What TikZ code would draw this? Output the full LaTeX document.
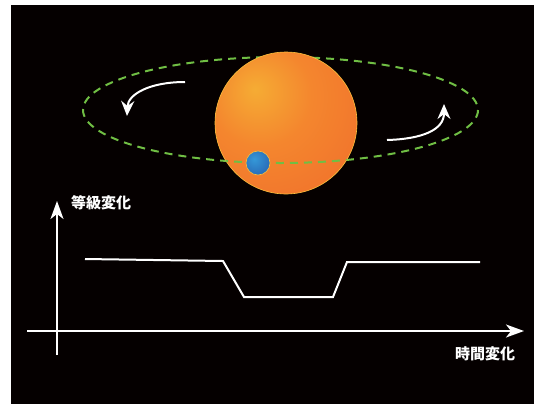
\documentclass[tikz,border=0pt]{standalone}
\usepackage{fontspec}
\usetikzlibrary{arrows.meta}
\newfontfamily\cjk{Noto Sans CJK JP}
\definecolor{starcore}{RGB}{245,172,52}
\definecolor{starmid}{RGB}{244,134,46}
\definecolor{staredge}{RGB}{236,80,40}
\definecolor{starrim}{RGB}{250,190,60}
\definecolor{planetcore}{RGB}{52,152,216}
\definecolor{planetedge}{RGB}{34,74,158}
\definecolor{orbitgreen}{RGB}{112,190,68}
\pgfdeclareradialshading{starglow}{\pgfpoint{-11bp}{12bp}}{color(0bp)=(starcore); color(18bp)=(starmid); color(45bp)=(starmid!55!staredge); color(64bp)=(staredge); color(100bp)=(staredge)}
\pgfdeclareradialshading{planetglow}{\pgfpoint{-8bp}{8bp}}{color(0bp)=(planetcore); color(55bp)=(planetedge); color(100bp)=(planetedge)}
\tikzset{
  orbit/.style={draw=orbitgreen, line width=2pt, dash pattern=on 8pt off 6pt},
  motion/.style={draw=white, line width=2pt, -{Stealth[length=15pt,width=13pt,inset=5pt]}},
  axis/.style={draw=white, line width=1.6pt, -{Stealth[length=18pt,width=13pt,inset=5pt]}},
  curve/.style={draw=white, line width=2pt, line join=miter},
  label/.style={text=white, font=\cjk\bfseries\fontsize{15pt}{17pt}\selectfont, inner sep=0pt}
}
\begin{document}
\begin{tikzpicture}[x=1pt,y=-1pt]
  \useasboundingbox (0,0) rectangle (535,408);
  \fill[white] (0,0) rectangle (535,408);
  \fill[black!98!red] (11,5) rectangle (534,404);

  % orbit of the planet (full ring, the star covers its far side)
  \draw[orbit] (280.5,110) ellipse [x radius=197.5, y radius=53];

  % the star
  \node[circle, minimum size=142pt, inner sep=0pt, shading=starglow, draw=starrim, line width=0.6pt] (star) at (286,123) {};

  % near side of the orbit, passing in front of the star
  \begin{scope}
    \clip (200,110) rectangle (370,200);
    \clip (286,123) circle [radius=71];
    \draw[orbit] (280.5,110) ellipse [x radius=197.5, y radius=53];
  \end{scope}

  % the planet
  \node[circle, minimum size=24pt, inner sep=0pt, shading=planetglow, draw=starrim, line width=0.6pt] (planet) at (258,163) {};

  % direction of motion
  \coordinate (l0) at (185,82);
  \coordinate (l1) at (127,116);
  \coordinate (r0) at (387,140);
  \coordinate (r1) at (444,104);
  \draw[motion] (l0) .. controls (150,82) and (128,94) .. (l1);
  \draw[motion] (r0) .. controls (422,139) and (444,130) .. (r1);

  % light curve axes
  \coordinate (yaxis0) at (57,355);
  \coordinate (yaxis1) at (57,201);
  \coordinate (xaxis0) at (27,331);
  \coordinate (xaxis1) at (524,331);
  \draw[axis] (yaxis0) -- (yaxis1);
  \draw[axis] (xaxis0) -- (xaxis1);
  \node[label] (mag) at (101,203) {等級変化};
  \node[label] (time) at (485,354) {時間変化};

  % brightness dip during the transit
  \coordinate (c0) at (85,259);
  \coordinate (c1) at (223,261);
  \coordinate (c2) at (244,297);
  \coordinate (c3) at (333,297);
  \coordinate (c4) at (347,262);
  \coordinate (c5) at (480,262);
  \draw[curve] (c0) -- (c1) -- (c2) -- (c3) -- (c4) -- (c5);
\end{tikzpicture}
\end{document}
